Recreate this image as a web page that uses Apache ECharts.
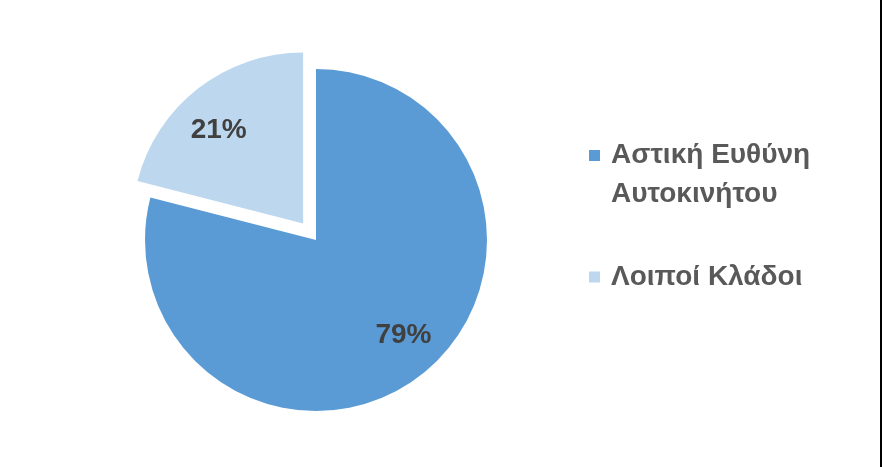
<!DOCTYPE html>
<html>
<head>
<meta charset="utf-8">
<script src="https://cdn.jsdelivr.net/npm/echarts@6/dist/echarts.min.js"></script>
<style>html,body{margin:0;padding:0;background:#fff;}#c{width:882px;height:467px;}</style>
</head>
<body>
<div id="c"></div>
<script>
const categories = ['Αστική Ευθύνη\nΑυτοκινήτου', 'Λοιποί Κλάδοι'];
const values = [79, 21];
const colors = ['#5B9BD5', '#BDD7EE'];

const chart = echarts.init(document.getElementById('c'), null, {renderer: 'canvas'});
const center = [316, 240];
const labelNudge = [[9, -6], [-6, 8]];
const pieData = categories.map((n, i) => ({
  name: n, value: values[i], selected: i === 1,
  itemStyle: {color: colors[i]}
}));
const labelData = categories.map((n, i) => ({
  name: n, value: values[i], selected: i === 1,
  itemStyle: {color: 'rgba(0,0,0,0)'},
  label: {offset: labelNudge[i]},
  select: {label: {offset: labelNudge[i]}}
}));
const iconTop = 'path://M0,0H11V11H0Z M17,50H17.01V50.01H17Z';
const iconMid = 'path://M0,0H0.01V0.01H0Z M0,19.5H11V30.5H0Z M17,50H17.01V50.01H17Z';

chart.setOption({
  animation: false,
  backgroundColor: '#fff',
  legend: {
    orient: 'vertical',
    left: 589, top: 136,
    padding: 0,
    itemWidth: 17, itemHeight: 50,
    itemGap: 38,
    symbolKeepAspect: false,
    selectedMode: false,
    data: categories.map((n, i) => ({name: n, icon: i === 0 ? iconTop : iconMid, itemStyle: {color: colors[i]}})),
    textStyle: {fontFamily: 'Liberation Sans, Arial, sans-serif', fontSize: 28, fontWeight: 'bold', color: '#595959', lineHeight: 39}
  },
  graphic: [{type: 'rect', right: 0, top: 0, shape: {width: 2, height: 467}, style: {fill: '#000'}}],
  series: [{
    type: 'pie',
    center: center,
    radius: 171,
    startAngle: 90,
    clockwise: true,
    selectedMode: 'single',
    selectedOffset: 21,
    avoidLabelOverlap: false,
    label: {show: false},
    labelLine: {show: false},
    emphasis: {disabled: true},
    data: pieData
  }, {
    type: 'pie',
    center: center,
    radius: 250,
    startAngle: 90,
    clockwise: true,
    silent: true,
    selectedMode: 'single',
    selectedOffset: 21,
    avoidLabelOverlap: false,
    legendHoverLink: false,
    label: {show: true, position: 'inside', formatter: '{d}%', fontFamily: 'Liberation Sans, Arial, sans-serif', fontWeight: 'bold', fontSize: 28, color: '#404040'},
    labelLine: {show: false},
    emphasis: {disabled: true},
    data: labelData
  }]
});
</script>
</body>
</html>
